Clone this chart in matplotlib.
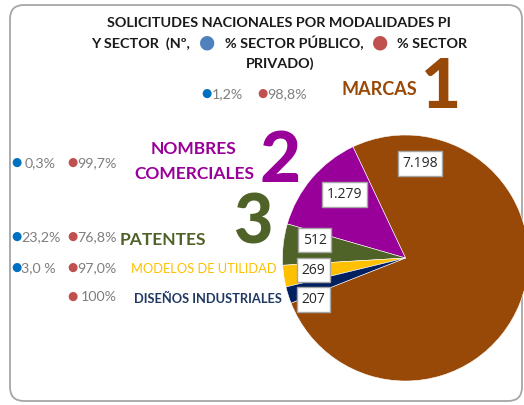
import matplotlib
matplotlib.use('Agg')
import matplotlib.pyplot as plt
from matplotlib.patches import FancyBboxPatch

# ---- data ----
categories = ['MARCAS', 'NOMBRES\nCOMERCIALES', 'PATENTES', 'MODELOS DE UTILIDAD', 'DISEÑOS INDUSTRIALES']
values = [7198, 1279, 512, 269, 207]
value_labels = ['7.198', '1.279', '512', '269', '207']
ranks = ['1', '2', '3', None, None]
pct_public = ['1,2%', '0,3%', '23,2%', '3,0 %', None]
pct_private = ['98,8%', '99,7%', '76,8%', '97,0%', '100%']
title_l1 = 'SOLICITUDES NACIONALES POR MODALIDADES PI'
title_l3 = 'PRIVADO)'

colors = ['#984807', '#990099', '#4F6228', '#FFC000', '#002060']
label_colors = ['#984807', '#990099', '#4F6228', '#FFC000', '#1F3864']

W, H = 524, 405
plt.rcParams['font.family'] = ['Lato', 'DejaVu Sans']
fig = plt.figure(figsize=(W / 100, H / 100), dpi=100)
fig.patch.set_facecolor('white')


def fx(x):
    return x / W


def fy(y):
    return 1 - y / H


# rounded chart-area border
border = FancyBboxPatch((0.10, 0.04), 5.12, 3.96,
                        boxstyle='round,pad=0,rounding_size=0.14',
                        transform=fig.dpi_scale_trans, fc='white',
                        ec='#A6A6A6', lw=1.3, zorder=0)
fig.add_artist(border)

# ---- pie ----
cx, cy, r = 405.5, 258, 123
ax = fig.add_axes([fx(cx - r), fy(cy + r), 2 * r / W, 2 * r / H])
wedges, _ = ax.pie(values, colors=colors, startangle=201.5, counterclock=True,
                   radius=1, wedgeprops=dict(edgecolor='white', linewidth=0.4))
for w in wedges:
    w.set_clip_on(False)
ax.set_xlim(-1, 1)
ax.set_ylim(-1, 1)
ax.set_aspect('equal')
ax.axis('off')

# value label boxes (pixel centres taken from the reference layout)
label_pos = [(420, 163.5), (344.5, 194.5), (314.5, 240), (313.5, 270), (313.5, 299.5)]
for txt, (px_, py_) in zip(value_labels, label_pos):
    fig.text(fx(px_), fy(py_), txt, ha='center', va='center', fontsize=10,
             family=['Open Sans', 'DejaVu Sans'], color='#262626', zorder=5,
             bbox=dict(boxstyle='square,pad=0.33', fc='white', ec='#A6A6A6', lw=1))

# ---- title ----
dark = '#1A1A1A'
tfs = 10.4
fig.text(fx(279), fy(27), title_l1, ha='center', va='baseline', fontsize=tfs,
         fontweight='bold', color=dark)
fig.text(fx(280), fy(68), title_l3, ha='center', va='baseline', fontsize=tfs,
         fontweight='bold', color=dark)

renderer = fig.canvas.get_renderer()
pieces = [('Y SECTOR  (Nº,', dark, 'Lato', tfs, 9),
          ('●', '#4F81BD', 'DejaVu Sans', 13.5, 9),
          ('% SECTOR PÚBLICO,', dark, 'Lato', tfs, 9),
          ('●', '#C0504D', 'DejaVu Sans', 13.5, 8),
          ('% SECTOR', dark, 'Lato', tfs, 0)]
arts = []
x = 0
for s, c, fam, fs, gap in pieces:
    t = fig.text(0, fy(48), s, ha='left', va='baseline', fontsize=fs,
                 fontweight='bold', color=c, family=[fam, 'DejaVu Sans'])
    bb = t.get_window_extent(renderer)
    arts.append((t, x))
    x += bb.width + gap
start = 279 - x / 2
for t, off in arts:
    t.set_x(fx(start + off))
    if t.get_text() == '●':
        t.set_y(fy(47.5))

# ---- category texts ----
gray = '#7F7F7F'
blue_dot = '#0070C0'
red_dot = '#C0504D'
pfs = 10.3
dfs = 8.5

# Marcas row (top)
fig.text(fx(206), fy(93.5), '●', ha='center', va='center', fontsize=dfs,
         color=blue_dot, family='DejaVu Sans')
fig.text(fx(212), fy(98), pct_public[0], ha='left', va='baseline', fontsize=pfs, color=gray)
fig.text(fx(262), fy(93.5), '●', ha='center', va='center', fontsize=dfs,
         color=red_dot, family='DejaVu Sans')
fig.text(fx(267), fy(98), pct_private[0], ha='left', va='baseline', fontsize=pfs, color=gray)
fig.text(fx(379), fy(95), categories[0], ha='center', va='baseline', fontsize=13,
         fontweight='bold', color=label_colors[0])
fig.text(fx(441), fy(108), ranks[0], ha='center', va='baseline', fontsize=50,
         fontweight='black', color=label_colors[0])

# Nombres comerciales
fig.text(fx(194), fy(154), 'NOMBRES', ha='center', va='baseline', fontsize=12.5,
         fontweight='bold', color=label_colors[1])
fig.text(fx(194), fy(179), 'COMERCIALES', ha='center', va='baseline', fontsize=12.5,
         fontweight='bold', color=label_colors[1])
fig.text(fx(280), fy(182), ranks[1], ha='center', va='baseline', fontsize=51,
         fontweight='black', color=label_colors[1])

# Patentes
fig.text(fx(163), fy(245), categories[2], ha='center', va='baseline', fontsize=12.5,
         fontweight='bold', color=label_colors[2])
fig.text(fx(253), fy(243), ranks[2], ha='center', va='baseline', fontsize=49,
         fontweight='black', color=label_colors[2])

# Modelos / Diseños
fig.text(fx(277), fy(273), categories[3], ha='right', va='baseline', fontsize=9.3,
         color=label_colors[3])
fig.text(fx(282), fy(303), categories[4], ha='right', va='baseline', fontsize=9.3,
         fontweight='bold', color=label_colors[4])

# left-hand percentage rows
row_y = [None, 167, 241, 272, 301]
pub_x = [None, 25, 21, 21, None]
for i in range(1, 5):
    yb = row_y[i]
    if pct_public[i] is not None:
        fig.text(fx(16.5), fy(yb - 4.5), '●', ha='center', va='center', fontsize=dfs,
                 color=blue_dot, family='DejaVu Sans')
        fig.text(fx(pub_x[i]), fy(yb), pct_public[i], ha='left',
                 va='baseline', fontsize=pfs, color=gray)
    fig.text(fx(72.5), fy(yb - 4.5), '●', ha='center', va='center', fontsize=dfs,
             color=red_dot, family='DejaVu Sans')
    fig.text(fx(117), fy(yb), pct_private[i], ha='right', va='baseline',
             fontsize=pfs, color=gray)

fig.savefig('out.png', dpi=100, facecolor='white')
